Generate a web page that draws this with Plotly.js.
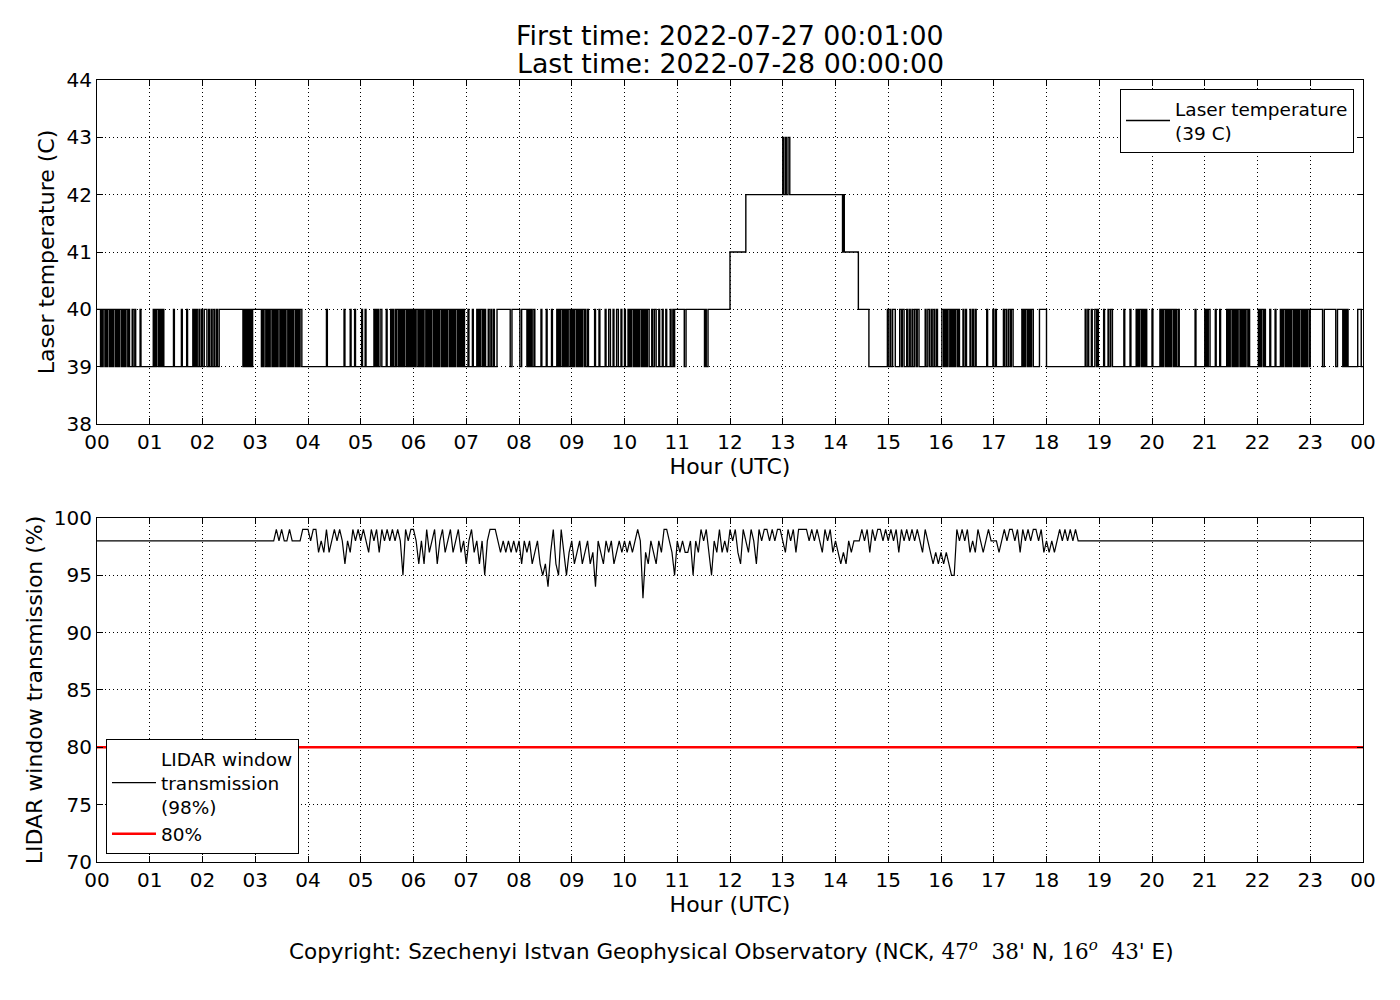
<!DOCTYPE html>
<html>
<head>
<meta charset="utf-8">
<script src="https://cdn.plot.ly/plotly-3.0.1.min.js"></script>
<style>
  html, body { margin: 0; padding: 0; background: white; }
  #chart { width: 1400px; height: 1000px; }
</style>
</head>
<body>
<div id="chart"></div>
<script>
// laser temperature: minutes of the day where the laser sits at 40 C (39 C otherwise)
var warmSpans = [
    [0,4],[5,6],[7,9],[10,11],[12,14],[15,16],[17,18],[19,21],[22,23],[24,25],[26,28],[29,30],[31,32],[33,35],[36,37],[40,41],[43,44],[49,50],
    [64,65],[66,67],[68,70],[71,72],[73,74],[75,76],[87,88],[96,97],[102,103],[109,110],[111,112],[113,114],[116,117],[119,120],
    [122,125],[127,128],[130,131],[133,134],[136,137],[139,166],[167,168],[169,170],[171,172],[173,174],[175,176],[177,187],
    [188,189],[190,192],[193,194],[195,196],[197,199],[200,201],[202,203],[204,205],[206,208],[209,210],[211,212],[213,214],[215,217],[218,219],[220,221],[222,223],[224,226],[227,228],[229,230],[231,233],
    [261,262],[281,282],[288,289],[293,294],
    [301,302],[305,306],[315,316],[317,318],[319,320],[322,324],[329,330],[334,335],[336,337],[339,340],[341,343],[344,345],[346,347],[348,349],[350,352],[353,354],[355,356],[357,358],
    [359,360],[361,362],[363,365],[366,367],[368,369],[370,371],[372,374],[375,376],[377,378],[379,380],[381,383],[384,385],[386,387],[388,389],[390,392],[393,394],[395,396],[397,398],[399,401],[402,403],[404,405],[406,407],[408,410],[411,412],[413,414],[415,416],[417,418],
    [422,423],[427,428],[432,433],[434,435],[436,438],[439,440],[441,442],[445,446],[448,449],[451,452],[455,470],[472,481],[483,489],
    [490,491],[492,493],[494,495],[497,498],[505,506],[511,512],[517,518],[523,524],[525,526],[527,529],[530,531],[532,533],[534,535],[536,538],
    [539,540],[541,542],[543,545],[546,547],[548,549],[550,551],[552,554],[555,556],[558,559],[566,567],[571,572],[578,579],[582,584],[587,588],[591,593],[596,597],
    [600,601],[604,605],[606,607],[608,610],[611,612],[613,614],[615,616],[617,619],[620,621],[622,623],[624,625],[626,628],[631,632],[634,636],[639,640],[643,644],[647,648],[652,653],[655,656],[657,668],
    [670,691],[692,693],[695,720],
    [899,900],[902,903],[905,908],[913,915],[916,918],[921,922],[924,925],[927,928],[930,932],[933,935],[942,943],[945,947],[949,950],[952,953],[955,956],
    [961,963],[964,965],[966,967],[968,970],[971,972],[973,974],[975,976],[977,979],[980,981],[985,986],[988,989],[993,994],[996,997],[999,1000],
    [1012,1013],[1019,1020],[1022,1023],[1031,1032],[1034,1035],[1037,1039],[1040,1042],
    [1052,1053],[1054,1055],[1056,1058],[1059,1060],[1061,1062],[1063,1065],[1072,1080],
    [1124,1125],[1127,1128],[1131,1132],[1135,1137],[1138,1139],[1145,1146],[1150,1151],[1153,1155],
    [1168,1169],[1175,1176],[1182,1183],[1184,1185],[1186,1188],[1189,1190],[1191,1192],[1193,1194],[1200,1201],
    [1209,1210],[1211,1212],[1213,1215],[1216,1217],[1218,1219],[1220,1221],[1222,1224],[1225,1226],[1227,1228],[1230,1231],
    [1249,1250],[1260,1261],[1262,1263],[1264,1266],[1272,1273],[1277,1278],
    [1285,1286],[1287,1288],[1289,1291],[1292,1293],[1294,1295],[1296,1297],[1298,1300],[1301,1302],[1303,1304],[1305,1306],[1307,1309],[1310,1311],
    [1321,1322],[1323,1324],[1325,1327],[1328,1329],[1334,1335],[1340,1341],
    [1346,1347],[1348,1349],[1350,1352],[1353,1354],[1355,1356],[1357,1358],[1359,1361],[1362,1363],[1364,1365],[1366,1367],[1368,1370],[1371,1372],[1373,1374],[1375,1376],[1377,1379],
    [1380,1394],[1396,1409],[1411,1417],[1418,1419],[1420,1421],[1422,1423],[1434,1438]
];

// midday warm-up: [minute, temperature C]
var peakSteps = [
    [720,41],[738,42],[780,43],[781,42],[783,43],[784,42],[786,43],[788,42],
    [848,41],[849,42],[850,41],[866,40],[878,39]
];

// LIDAR window transmission (%), one value every 3 minutes, hours 03..18
var transStartHour = 3;
var transRows = [
    [98,98,98,98,98,98,98,98,99,98,99,98,98,99,98,98,98,98,99,99],
    [99,98,99,99,97,98,97,99,97,98,99,98,99,98,96,98,97,99,98,99],
    [98,99,98,97,99,98,99,97,99,98,99,98,99,98,99,98,95,99,98,99],
    [99,98,96,98,96,99,97,98,99,96,98,99,97,98,99,97,98,99,97,98],
    [96,98,99,97,98,96,98,95,98,99,99,99,98,97,98,97,98,97,98,97],
    [98,96,98,97,98,96,97,98,96,95,96,94,97,99,96,95,99,97,95,97],
    [98,96,97,98,96,97,98,96,97,94,98,97,96,98,97,98,96,97,98,97],
    [98,97,98,97,98,99,98,93,97,96,98,97,96,98,97,99,99,98,97,95],
    [98,97,98,97,97,98,95,98,97,99,98,99,97,95,98,97,99,97,98,97],
    [99,98,99,97,96,99,98,97,99,98,96,99,98,99,99,98,99,98,99,99],
    [98,97,99,98,99,97,99,99,99,99,98,99,98,99,98,97,99,98,99,97],
    [98,97,96,97,96,98,97,98,98,98,99,98,99,97,99,98,99,99,98,99],
    [98,99,98,99,97,99,98,99,98,99,98,99,98,97,99,98,97,96,97,96],
    [97,96,97,96,95,95,99,98,99,98,99,97,98,97,99,98,97,98,99,98],
    [98,98,97,98,99,98,99,99,98,99,97,99,98,99,98,99,99,98,99,97],
    [98,97,98,97,98,99,98,99,98,99,98,99,98,98,98,98,98,98,98,98]
];
var transEdge = 98;   // flat reading before 03:00 and after 19:00

var limitX = [0, 24];
var limitY = [80, 80];

var hourTicks = [];
var hourLabels = [];
for (var h = 0; h <= 24; h++) {
    hourTicks.push(h);
    hourLabels.push(h == 24 ? "00" : (h < 10 ? "0" + h : "" + h));
}

function buildTemp() {
    var ev = [];
    for (var i = 0; i < warmSpans.length; i++) {
        ev.push([warmSpans[i][0], 40]);
        ev.push([warmSpans[i][1], 39]);
    }
    for (var j = 0; j < peakSteps.length; j++) {
        ev.push(peakSteps[j]);
    }
    ev.sort(function (a, b) { return a[0] - b[0]; });
    var xs = [], ys = [];
    for (var k = 0; k < ev.length; k++) {
        if (xs.length && xs[xs.length - 1] == ev[k][0] / 60) {
            ys[ys.length - 1] = ev[k][1];
        } else {
            xs.push(ev[k][0] / 60);
            ys.push(ev[k][1]);
        }
    }
    xs.push(24);
    ys.push(ys[ys.length - 1]);
    return {x: xs, y: ys};
}

function buildTrans() {
    var xs = [0], ys = [transEdge];
    for (var r = 0; r < transRows.length; r++) {
        for (var k = 0; k < transRows[r].length; k++) {
            xs.push(transStartHour + r + k * 0.05);
            ys.push(transRows[r][k]);
        }
    }
    xs.push(24);
    ys.push(transEdge);
    return {x: xs, y: ys};
}

var temp = buildTemp();
var trans = buildTrans();

var traces = [
    {
        type: "scatter", mode: "lines", x: temp.x, y: temp.y,
        line: {color: "black", width: 1.4, shape: "hv"},
        name: "Laser temperature<br>(39 C)", xaxis: "x", yaxis: "y", legend: "legend"
    },
    {
        type: "scatter", mode: "lines", x: trans.x, y: trans.y,
        line: {color: "black", width: 1.2},
        name: "LIDAR window<br>transmission<br>(98%)", xaxis: "x2", yaxis: "y2", legend: "legend2"
    },
    {
        type: "scatter", mode: "lines", x: limitX, y: limitY,
        line: {color: "#ff0000", width: 2.5},
        name: "80%", xaxis: "x2", yaxis: "y2", legend: "legend2"
    }
];

function axis(extra) {
    var base = {
        showline: true, linecolor: "black", linewidth: 1, mirror: "allticks",
        ticks: "inside", ticklen: 6, tickcolor: "black", tickwidth: 1,
        showgrid: true, gridcolor: "black", griddash: "1px,3px", gridwidth: 1,
        zeroline: false, tickfont: {size: 20, color: "black"}
    };
    return Object.assign(base, extra);
}

var xCommon = {
    range: [0, 24], tickmode: "array", tickvals: hourTicks, ticktext: hourLabels,
    title: {text: "Hour (UTC)", font: {size: 22, color: "black"}, standoff: 4}
};

var layout = {
    width: 1400,
    height: 1000,
    margin: {l: 97, r: 37, t: 80, b: 138},
    paper_bgcolor: "white",
    plot_bgcolor: "white",
    font: {family: "DejaVu Sans", color: "black"},
    showlegend: true,
    xaxis: axis(Object.assign({anchor: "y"}, xCommon)),
    yaxis: axis({
        domain: [0.5601, 1], range: [38, 44], dtick: 1, anchor: "x",
        title: {text: "Laser temperature (C)", font: {size: 22, color: "black"}, standoff: 5}
    }),
    xaxis2: axis(Object.assign({anchor: "y2"}, xCommon)),
    yaxis2: axis({
        domain: [0, 0.4399], range: [70, 100], dtick: 5, anchor: "x2",
        title: {text: "LIDAR window transmission (%)", font: {size: 22, color: "black"}, standoff: 5}
    }),
    legend: {
        x: 0.9929, y: 0.9885, xanchor: "right", yanchor: "top",
        bgcolor: "white", bordercolor: "black", borderwidth: 1,
        itemwidth: 44, tracegroupgap: 0,
        font: {size: 18.5, color: "black"}
    },
    legend2: {
        x: 0.0071, y: 0.0102, xanchor: "left", yanchor: "bottom",
        bgcolor: "white", bordercolor: "black", borderwidth: 1,
        itemwidth: 44, tracegroupgap: 0,
        font: {size: 18.5, color: "black"}
    },
    annotations: [
        {
            text: "First time: 2022-07-27 00:01:00", xref: "paper", yref: "paper",
            x: 0.5, y: 1.0575, xanchor: "center", yanchor: "middle", showarrow: false,
            font: {size: 26.8, color: "black"}
        },
        {
            text: "Last time: 2022-07-28 00:00:00", xref: "paper", yref: "paper",
            x: 0.5, y: 1.0205, xanchor: "center", yanchor: "middle", showarrow: false,
            font: {size: 26.8, color: "black"}
        },
        {
            text: "Copyright: Szechenyi Istvan Geophysical Observatory (NCK, " +
                "<span style='font-family:DejaVu Serif'>47<sup><i>o</i></sup>  38'</span> N, " +
                "<span style='font-family:DejaVu Serif'>16<sup><i>o</i></sup>  43'</span> E)",
            xref: "paper", yref: "paper",
            x: 0.5008, y: -0.1125, xanchor: "center", yanchor: "middle", showarrow: false,
            font: {size: 21.5, color: "black"}
        }
    ]
};

Plotly.newPlot("chart", traces, layout, {staticPlot: true});
</script>
</body>
</html>
